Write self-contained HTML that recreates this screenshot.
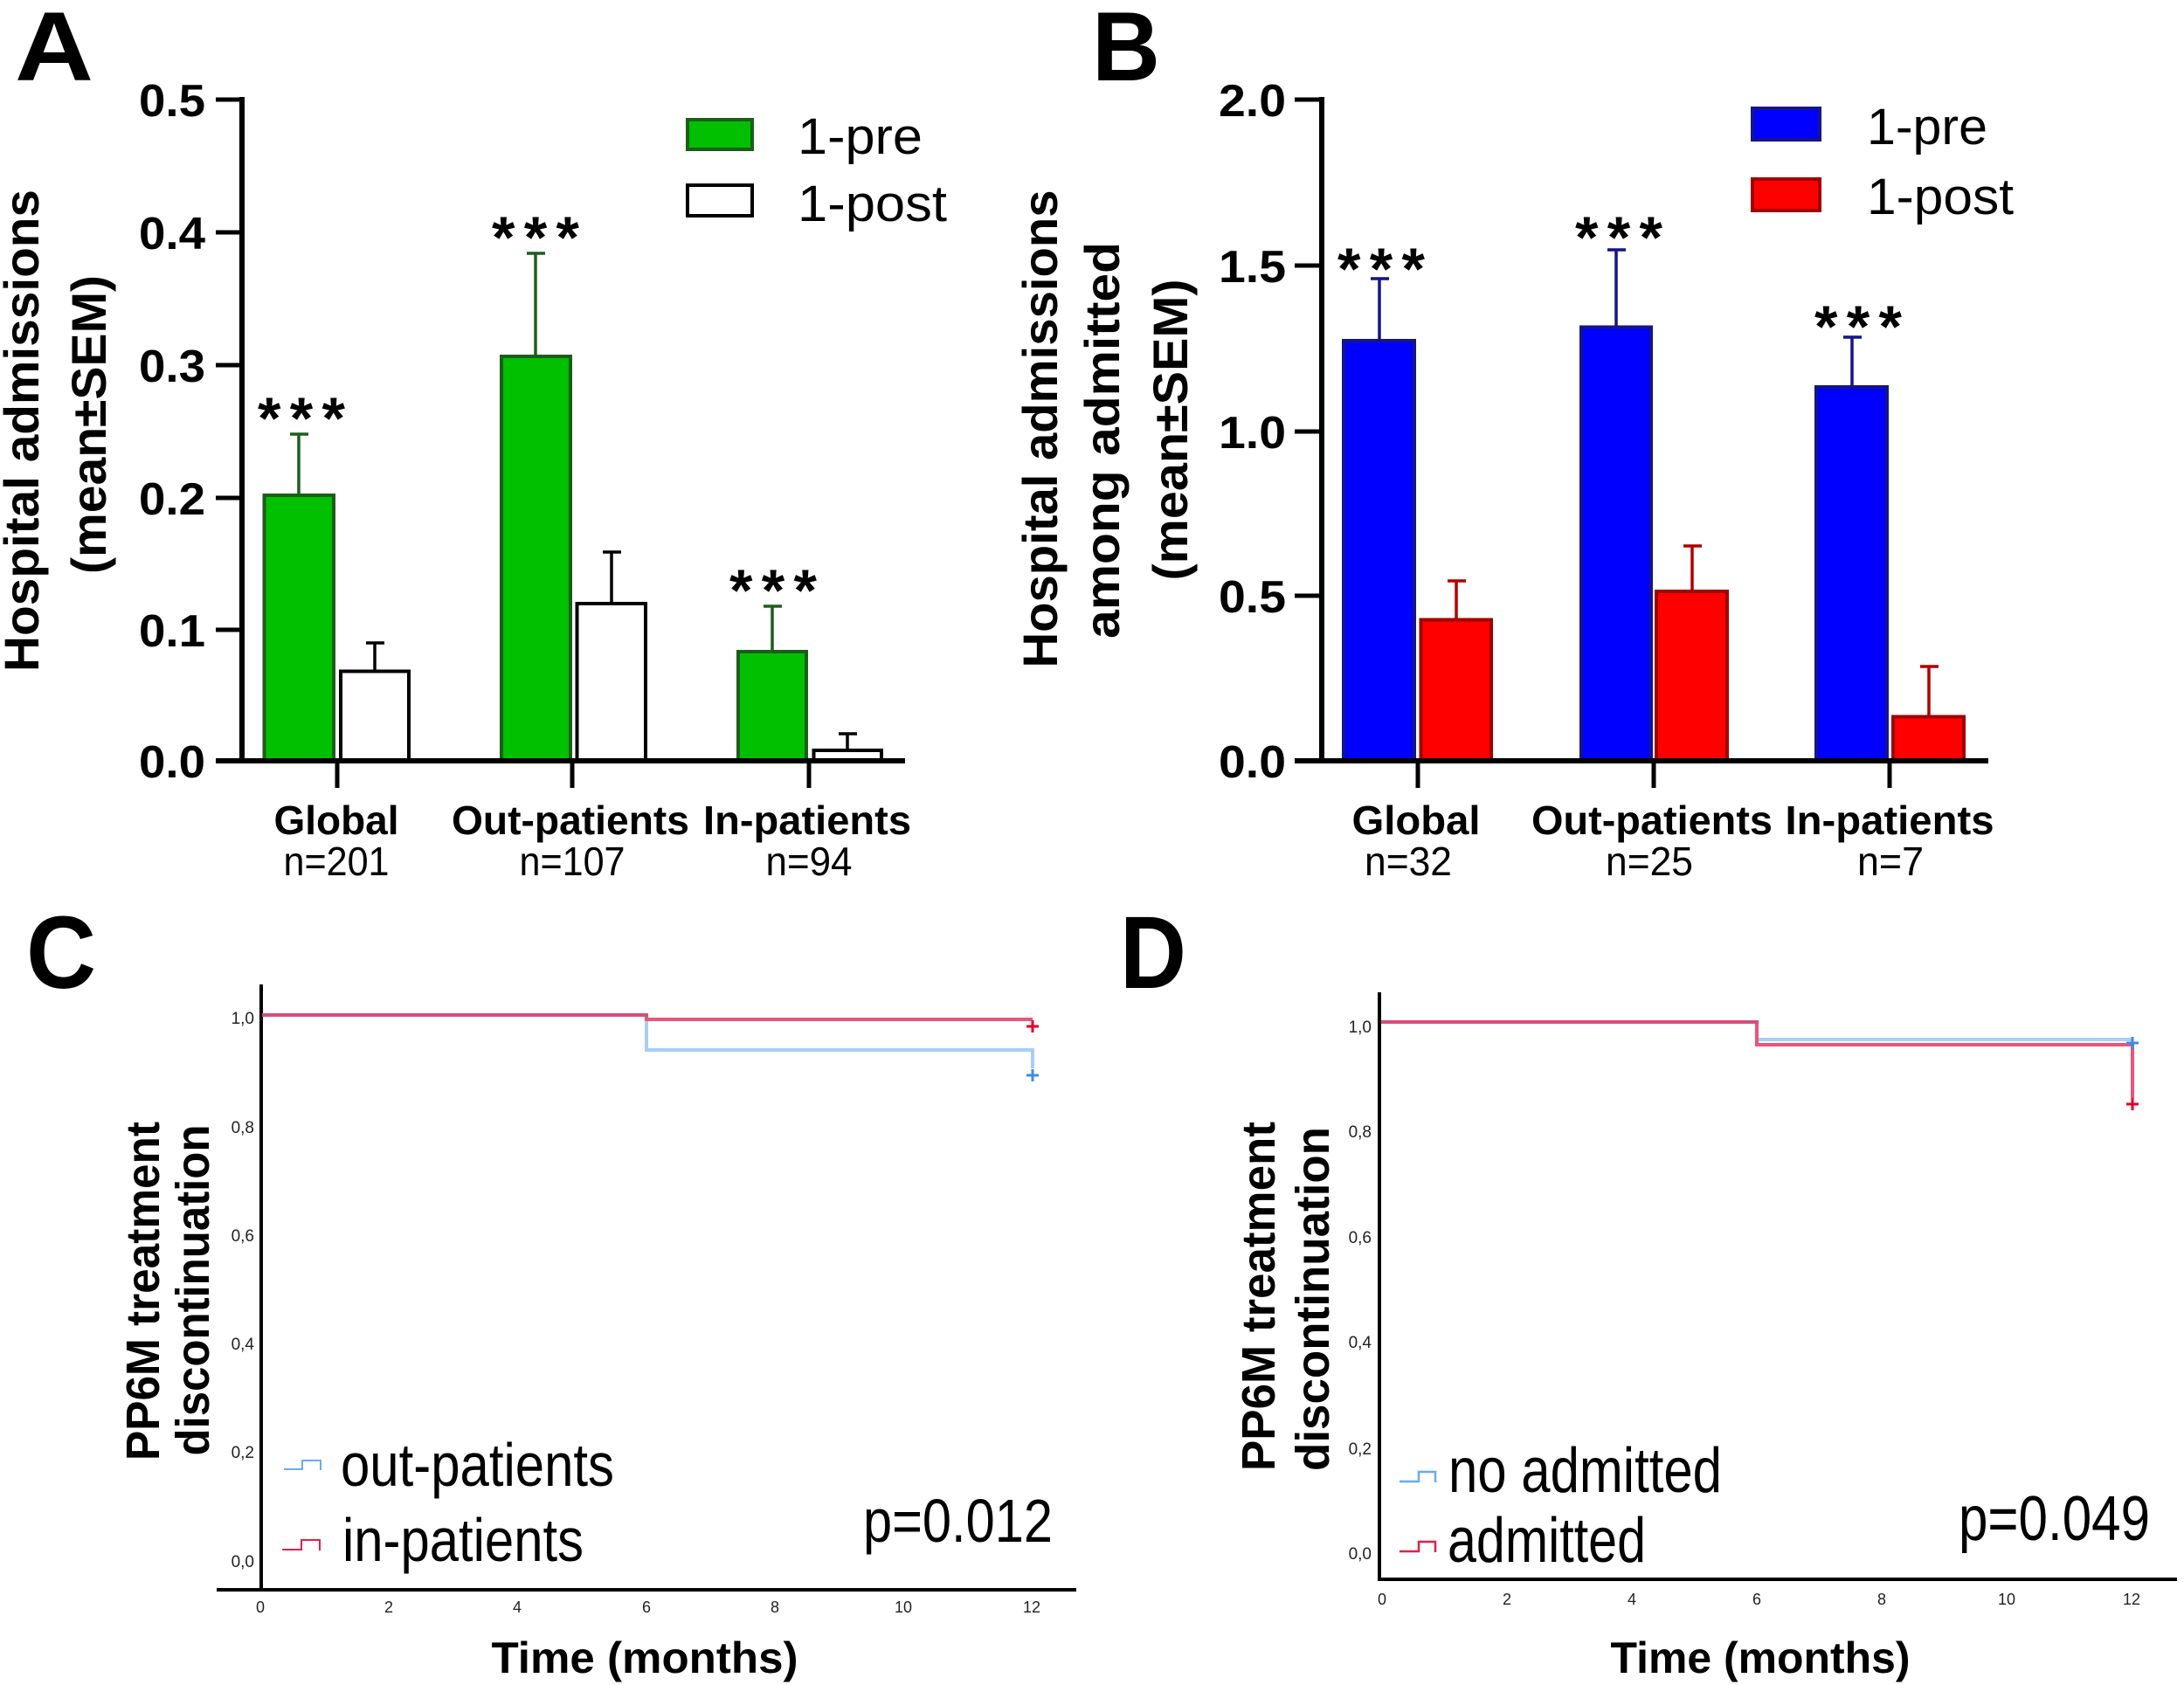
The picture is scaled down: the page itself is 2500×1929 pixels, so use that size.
<!DOCTYPE html>
<html>
<head>
<meta charset="utf-8">
<style>
html,body{margin:0;padding:0;background:#fff;}
svg{display:block;}
text{font-family:"Liberation Sans",Arial,sans-serif;}
.b{font-weight:bold;}
</style>
</head>
<body>
<svg width="2500" height="1929" viewBox="0 0 2500 1929" xmlns="http://www.w3.org/2000/svg">
<rect width="2500" height="1929" fill="#fff"/>

<!-- ================= PANEL A ================= -->
<text class="b" x="17" y="92" font-size="112" textLength="90" lengthAdjust="spacingAndGlyphs">A</text>

<!-- y label -->
<text class="b" font-size="56" text-anchor="middle" transform="translate(44,493) rotate(-90)" textLength="552" lengthAdjust="spacingAndGlyphs">Hospital admissions</text>
<text class="b" font-size="56" text-anchor="middle" transform="translate(121,486) rotate(-90)" textLength="342" lengthAdjust="spacingAndGlyphs">(mean±SEM)</text>

<!-- axes -->
<line x1="277" y1="111" x2="277" y2="874" stroke="#000" stroke-width="6"/>
<line x1="247" y1="871" x2="1036" y2="871" stroke="#000" stroke-width="6"/>
<g stroke="#000" stroke-width="5">
<line x1="247" y1="114" x2="277" y2="114"/>
<line x1="247" y1="266" x2="277" y2="266"/>
<line x1="247" y1="418" x2="277" y2="418"/>
<line x1="247" y1="570" x2="277" y2="570"/>
<line x1="247" y1="721" x2="277" y2="721"/>
<line x1="386" y1="871" x2="386" y2="902"/>
<line x1="655" y1="871" x2="655" y2="902"/>
<line x1="926" y1="871" x2="926" y2="902"/>
</g>
<g class="b" font-size="52" text-anchor="end">
<text class="b" x="235" y="133" textLength="76" lengthAdjust="spacingAndGlyphs">0.5</text>
<text class="b" x="235" y="285" textLength="76" lengthAdjust="spacingAndGlyphs">0.4</text>
<text class="b" x="235" y="437" textLength="76" lengthAdjust="spacingAndGlyphs">0.3</text>
<text class="b" x="235" y="589" textLength="76" lengthAdjust="spacingAndGlyphs">0.2</text>
<text class="b" x="235" y="740" textLength="76" lengthAdjust="spacingAndGlyphs">0.1</text>
<text class="b" x="235" y="890" textLength="76" lengthAdjust="spacingAndGlyphs">0.0</text>
</g>

<!-- bars A -->
<g stroke-width="4">
<!-- error bars -->
<g stroke="#1e5e1e" stroke-width="3.5">
<line x1="342" y1="565" x2="342" y2="497"/><line x1="332" y1="497" x2="353" y2="497"/>
<line x1="613" y1="406" x2="613" y2="290"/><line x1="603" y1="290" x2="624" y2="290"/>
<line x1="884" y1="744" x2="884" y2="694"/><line x1="874" y1="694" x2="895" y2="694"/>
</g>
<g stroke="#000" stroke-width="3.5">
<line x1="429" y1="767" x2="429" y2="736"/><line x1="419" y1="736" x2="440" y2="736"/>
<line x1="700" y1="690" x2="700" y2="632"/><line x1="690" y1="632" x2="711" y2="632"/>
<line x1="970" y1="857" x2="970" y2="840"/><line x1="960" y1="840" x2="981" y2="840"/>
</g>
<rect x="302.5" y="567" width="79.5" height="304" fill="#00c000" stroke="#1a5e1a"/>
<rect x="574" y="408" width="79" height="463" fill="#00c000" stroke="#1a5e1a"/>
<rect x="845" y="746" width="78" height="125" fill="#00c000" stroke="#1a5e1a"/>
<rect x="390" y="768.5" width="78" height="102.5" fill="#fff" stroke="#000"/>
<rect x="660.5" y="691" width="78.5" height="180" fill="#fff" stroke="#000"/>
<rect x="931.5" y="859" width="77.5" height="12" fill="#fff" stroke="#000"/>
</g>
<line x1="247" y1="871" x2="1036" y2="871" stroke="#000" stroke-width="6"/>

<!-- stars A -->
<g class="b" font-size="68" text-anchor="middle">
<text class="b" x="345" y="502" textLength="100" lengthAdjust="spacing">***</text>
<text class="b" x="613" y="295" textLength="100" lengthAdjust="spacing">***</text>
<text class="b" x="885" y="699" textLength="100" lengthAdjust="spacing">***</text>
</g>

<!-- legend A -->
<rect x="787" y="137" width="74" height="34" fill="#00c000" stroke="#1a5e1a" stroke-width="4"/>
<rect x="787" y="212" width="74" height="35" fill="#fff" stroke="#000" stroke-width="4"/>
<text x="913" y="176" font-size="58" textLength="143" lengthAdjust="spacingAndGlyphs">1-pre</text>
<text x="913" y="253" font-size="58" textLength="171" lengthAdjust="spacingAndGlyphs">1-post</text>

<!-- category labels A -->
<g font-size="46" text-anchor="middle">
<text class="b" x="385" y="955" textLength="143" lengthAdjust="spacingAndGlyphs">Global</text>
<text class="b" x="653" y="955" textLength="272" lengthAdjust="spacingAndGlyphs">Out-patients</text>
<text class="b" x="924" y="955" textLength="238" lengthAdjust="spacingAndGlyphs">In-patients</text>
<text x="385" y="1002" textLength="121" lengthAdjust="spacingAndGlyphs">n=201</text>
<text x="655" y="1002" textLength="121" lengthAdjust="spacingAndGlyphs">n=107</text>
<text x="926" y="1002" textLength="99" lengthAdjust="spacingAndGlyphs">n=94</text>
</g>

<!-- ================= PANEL B ================= -->
<text class="b" x="1250" y="92" font-size="112" textLength="78" lengthAdjust="spacingAndGlyphs">B</text>

<text class="b" font-size="56" text-anchor="middle" transform="translate(1210,491) rotate(-90)" textLength="547" lengthAdjust="spacingAndGlyphs">Hospital admissions</text>
<text class="b" font-size="56" text-anchor="middle" transform="translate(1281,504) rotate(-90)" textLength="454" lengthAdjust="spacingAndGlyphs">among admitted</text>
<text class="b" font-size="56" text-anchor="middle" transform="translate(1359,492) rotate(-90)" textLength="345" lengthAdjust="spacingAndGlyphs">(mean±SEM)</text>

<line x1="1513" y1="111" x2="1513" y2="874" stroke="#000" stroke-width="6"/>
<g stroke="#000" stroke-width="5">
<line x1="1482" y1="114" x2="1513" y2="114"/>
<line x1="1482" y1="304" x2="1513" y2="304"/>
<line x1="1482" y1="494" x2="1513" y2="494"/>
<line x1="1482" y1="682" x2="1513" y2="682"/>
<line x1="1623" y1="871" x2="1623" y2="902"/>
<line x1="1893" y1="871" x2="1893" y2="902"/>
<line x1="2163" y1="871" x2="2163" y2="902"/>
</g>
<g font-size="52" text-anchor="end">
<text class="b" x="1472" y="133" textLength="77" lengthAdjust="spacingAndGlyphs">2.0</text>
<text class="b" x="1472" y="323" textLength="77" lengthAdjust="spacingAndGlyphs">1.5</text>
<text class="b" x="1472" y="513" textLength="77" lengthAdjust="spacingAndGlyphs">1.0</text>
<text class="b" x="1472" y="701" textLength="77" lengthAdjust="spacingAndGlyphs">0.5</text>
<text class="b" x="1472" y="890" textLength="77" lengthAdjust="spacingAndGlyphs">0.0</text>
</g>

<g stroke-width="4">
<g stroke="#14148c" stroke-width="3.5">
<line x1="1579" y1="388" x2="1579" y2="319"/><line x1="1569" y1="319" x2="1590" y2="319"/>
<line x1="1850" y1="373" x2="1850" y2="286"/><line x1="1840" y1="286" x2="1861" y2="286"/>
<line x1="2120" y1="441" x2="2120" y2="386"/><line x1="2110" y1="386" x2="2131" y2="386"/>
</g>
<g stroke="#b00000" stroke-width="3.5">
<line x1="1667" y1="708" x2="1667" y2="665"/><line x1="1657" y1="665" x2="1678" y2="665"/>
<line x1="1937" y1="675" x2="1937" y2="625"/><line x1="1927" y1="625" x2="1948" y2="625"/>
<line x1="2208" y1="819" x2="2208" y2="763"/><line x1="2198" y1="763" x2="2219" y2="763"/>
</g>
<rect x="1538" y="390" width="81" height="481" fill="#0000ff" stroke="#14148c"/>
<rect x="1810" y="374.5" width="80" height="496.5" fill="#0000ff" stroke="#14148c"/>
<rect x="2079" y="443" width="81" height="428" fill="#0000ff" stroke="#14148c"/>
<rect x="1626.5" y="709.5" width="80.5" height="161.5" fill="#ff0000" stroke="#a00000"/>
<rect x="1896" y="677" width="81" height="194" fill="#ff0000" stroke="#a00000"/>
<rect x="2167" y="820.5" width="81" height="50.5" fill="#ff0000" stroke="#a00000"/>
</g>
<line x1="1482" y1="871" x2="2276" y2="871" stroke="#000" stroke-width="6"/>

<g font-size="68" text-anchor="middle">
<text class="b" x="1581" y="331" textLength="100" lengthAdjust="spacing">***</text>
<text class="b" x="1853" y="295" textLength="100" lengthAdjust="spacing">***</text>
<text class="b" x="2127" y="397" textLength="100" lengthAdjust="spacing">***</text>
</g>

<rect x="2006" y="124" width="77" height="36" fill="#0000ff" stroke="#14148c" stroke-width="4"/>
<rect x="2006" y="205" width="77" height="36" fill="#ff0000" stroke="#a00000" stroke-width="4"/>
<text x="2137" y="165" font-size="58" textLength="138" lengthAdjust="spacingAndGlyphs">1-pre</text>
<text x="2137" y="245" font-size="58" textLength="168" lengthAdjust="spacingAndGlyphs">1-post</text>

<g font-size="46" text-anchor="middle">
<text class="b" x="1621" y="955" textLength="147" lengthAdjust="spacingAndGlyphs">Global</text>
<text class="b" x="1891" y="955" textLength="276" lengthAdjust="spacingAndGlyphs">Out-patients</text>
<text class="b" x="2163" y="955" textLength="239" lengthAdjust="spacingAndGlyphs">In-patients</text>
<text x="1612" y="1002" textLength="100" lengthAdjust="spacingAndGlyphs">n=32</text>
<text x="1888" y="1002" textLength="100" lengthAdjust="spacingAndGlyphs">n=25</text>
<text x="2164" y="1002" textLength="76" lengthAdjust="spacingAndGlyphs">n=7</text>
</g>

<!-- ================= PANEL C ================= -->
<text class="b" x="30" y="1131" font-size="118" textLength="80" lengthAdjust="spacingAndGlyphs">C</text>

<text class="b" font-size="54" text-anchor="middle" transform="translate(182,1478) rotate(-90)" textLength="388" lengthAdjust="spacingAndGlyphs">PP6M treatment</text>
<text class="b" font-size="54" text-anchor="middle" transform="translate(239,1477) rotate(-90)" textLength="379" lengthAdjust="spacingAndGlyphs">discontinuation</text>

<line x1="299" y1="1127" x2="299" y2="1822" stroke="#000" stroke-width="4"/>
<line x1="248" y1="1820" x2="1232" y2="1820" stroke="#000" stroke-width="4"/>

<g font-size="19" text-anchor="end" fill="#222">
<text x="291" y="1172">1,0</text>
<text x="291" y="1297">0,8</text>
<text x="291" y="1421">0,6</text>
<text x="291" y="1545">0,4</text>
<text x="291" y="1669">0,2</text>
<text x="291" y="1794">0,0</text>
</g>
<g font-size="18" text-anchor="middle" fill="#222">
<text x="298" y="1846">0</text>
<text x="445" y="1846">2</text>
<text x="592" y="1846">4</text>
<text x="740" y="1846">6</text>
<text x="887" y="1846">8</text>
<text x="1034" y="1846">10</text>
<text x="1181" y="1846">12</text>
</g>

<!-- curves C -->
<polyline points="740,1162 740,1202 1182,1202 1182,1223" fill="none" stroke="#a9cdf9" stroke-width="4"/>
<polyline points="740,1162 740,1167 1182,1167" fill="none" stroke="#ea5578" stroke-width="4"/>
<line x1="300" y1="1162" x2="742" y2="1162" stroke="#d64c78" stroke-width="4"/>
<g stroke="#e0002c" stroke-width="3"><line x1="1175" y1="1175" x2="1189" y2="1175"/><line x1="1182" y1="1168" x2="1182" y2="1182"/></g>
<g stroke="#3a8de8" stroke-width="3"><line x1="1175" y1="1231" x2="1189" y2="1231"/><line x1="1182" y1="1224" x2="1182" y2="1238"/></g>

<!-- legend C -->
<polyline points="325,1682 346,1682 346,1672 367,1672 367,1683" fill="none" stroke="#6aaaf0" stroke-width="2"/>
<polyline points="323,1774 345,1774 345,1763 366,1763 366,1775" fill="none" stroke="#e0204a" stroke-width="2"/>
<text x="390" y="1701" font-size="70" textLength="313" lengthAdjust="spacingAndGlyphs">out-patients</text>
<text x="392" y="1787" font-size="70" textLength="276" lengthAdjust="spacingAndGlyphs">in-patients</text>
<text x="988" y="1765" font-size="70" textLength="217" lengthAdjust="spacingAndGlyphs">p=0.012</text>

<text class="b" x="738" y="1915" font-size="50" text-anchor="middle" textLength="351" lengthAdjust="spacingAndGlyphs">Time (months)</text>

<!-- ================= PANEL D ================= -->
<text class="b" x="1282" y="1131" font-size="118" textLength="76" lengthAdjust="spacingAndGlyphs">D</text>

<text class="b" font-size="54" text-anchor="middle" transform="translate(1459,1484) rotate(-90)" textLength="400" lengthAdjust="spacingAndGlyphs">PP6M treatment</text>
<text class="b" font-size="54" text-anchor="middle" transform="translate(1521,1487) rotate(-90)" textLength="394" lengthAdjust="spacingAndGlyphs">discontinuation</text>

<line x1="1579" y1="1136" x2="1579" y2="1810" stroke="#000" stroke-width="4"/>
<line x1="1577" y1="1808" x2="2492" y2="1808" stroke="#000" stroke-width="4"/>

<g font-size="19" text-anchor="end" fill="#222">
<text x="1570" y="1182">1,0</text>
<text x="1570" y="1302">0,8</text>
<text x="1570" y="1423">0,6</text>
<text x="1570" y="1543">0,4</text>
<text x="1570" y="1665">0,2</text>
<text x="1570" y="1785">0,0</text>
</g>
<g font-size="18" text-anchor="middle" fill="#222">
<text x="1582" y="1837">0</text>
<text x="1725" y="1837">2</text>
<text x="1868" y="1837">4</text>
<text x="2011" y="1837">6</text>
<text x="2154" y="1837">8</text>
<text x="2297" y="1837">10</text>
<text x="2440" y="1837">12</text>
</g>

<!-- curves D -->
<polyline points="2011,1170 2011,1190 2441,1190" fill="none" stroke="#a9cdf9" stroke-width="4"/>
<polyline points="2011,1170 2011,1196 2441,1196 2441,1257" fill="none" stroke="#ea5578" stroke-width="4"/>
<line x1="1581" y1="1170" x2="2013" y2="1170" stroke="#d64c78" stroke-width="4"/>
<g stroke="#3a8de8" stroke-width="3"><line x1="2434" y1="1194" x2="2448" y2="1194"/><line x1="2441" y1="1187" x2="2441" y2="1201"/></g>
<g stroke="#e0002c" stroke-width="3"><line x1="2434" y1="1264" x2="2448" y2="1264"/><line x1="2441" y1="1257" x2="2441" y2="1271"/></g>

<!-- legend D -->
<polyline points="1602,1696 1624,1696 1624,1685 1643,1685 1643,1697" fill="none" stroke="#6aaaf0" stroke-width="2.5"/>
<polyline points="1602,1776 1624,1776 1624,1765 1643,1765 1643,1777" fill="none" stroke="#e0204a" stroke-width="2.5"/>
<text x="1658" y="1708" font-size="72" textLength="313" lengthAdjust="spacingAndGlyphs">no admitted</text>
<text x="1657" y="1788" font-size="72" textLength="227" lengthAdjust="spacingAndGlyphs">admitted</text>
<text x="2242" y="1763" font-size="72" textLength="219" lengthAdjust="spacingAndGlyphs">p=0.049</text>

<text class="b" x="2015" y="1915" font-size="50" text-anchor="middle" textLength="343" lengthAdjust="spacingAndGlyphs">Time (months)</text>

</svg>
</body>
</html>
